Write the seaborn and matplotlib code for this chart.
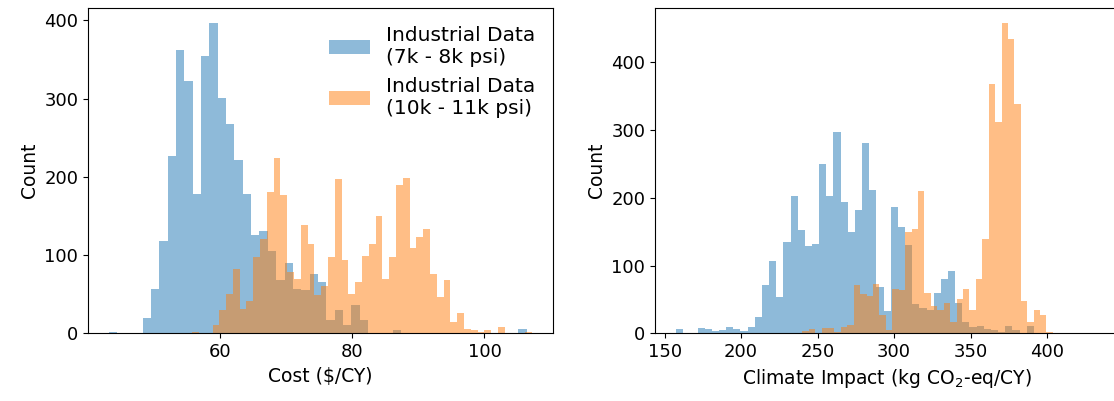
import numpy as np
import pandas as pd
import matplotlib
matplotlib.use("Agg")
import matplotlib.pyplot as plt
import seaborn as sns

# ---------------- data (bin counts) ----------------
# Cost panel, 7k-8k psi: 50 bins starting at 43.30, width 1.2617
cost_lo_start = 43.30
cost_lo_width = 1.2617
cost_lo_counts = [2, 0, 0, 1, 20, 57, 118, 227, 362, 322,
                  178, 355, 396, 301, 268, 222, 178, 126, 131, 105,
                  68, 90, 57, 55, 76, 65, 17, 30, 11, 36,
                  17, 0, 1, 1, 4, 0, 0, 0, 0, 0,
                  0, 0, 0, 0, 0, 0, 0, 0, 0, 5]

# Cost panel, 10k-11k psi: 50 bins starting at 55.84, width 1.0265
cost_hi_start = 55.84
cost_hi_width = 1.0265
cost_hi_counts = [2, 0, 0, 10, 30, 50, 82, 31, 41, 97,
                  120, 181, 224, 177, 78, 69, 139, 114, 49, 60,
                  97, 197, 94, 50, 65, 99, 114, 150, 69, 97,
                  190, 199, 109, 123, 133, 76, 47, 68, 15, 26,
                  5, 4, 2, 4, 0, 8, 1, 1, 1, 2]

# Climate panel, 7k-8k psi: 50 bins starting at 157.5, width 4.676
gwp_lo_start = 157.5
gwp_lo_width = 4.676
gwp_lo_counts = [6, 1, 0, 8, 6, 3, 5, 9, 6, 4,
                 9, 24, 71, 107, 54, 135, 203, 152, 129, 131,
                 250, 203, 297, 194, 149, 182, 281, 211, 68, 33,
                 186, 157, 130, 43, 38, 35, 60, 80, 92, 45,
                 17, 9, 11, 7, 5, 2, 11, 5, 1, 11]

# Climate panel, 10k-11k psi: 50 bins starting at 223.18, width 4.2
gwp_hi_start = 223.18
gwp_hi_width = 4.2
gwp_hi_counts = [1, 0, 0, 0, 4, 7, 1, 8, 8, 2,
                 9, 12, 71, 58, 55, 73, 27, 5, 65, 64,
                 149, 154, 210, 60, 40, 35, 45, 17, 50, 65,
                 34, 80, 139, 368, 312, 457, 434, 338, 47, 16,
                 34, 27, 2, 0, 0, 0, 0, 0, 1, 1]

label_lo = "Industrial Data\n(7k - 8k psi)"
label_hi = "Industrial Data\n(10k - 11k psi)"
xlabel_cost = "Cost ($/CY)"
xlabel_gwp = "Climate Impact (kg CO$_2$-eq/CY)"
ylabel = "Count"

BLUE = "#1f77b4"
ORANGE = "#ff7f0e"

plt.rcParams["font.family"] = ["DejaVu Sans"]
plt.rcParams["font.size"] = 13.5


def draw_hist(ax, start, width, counts, color, label):
    counts = np.asarray(counts, dtype=float)
    edges = start + width * np.arange(len(counts) + 1)
    centers = 0.5 * (edges[:-1] + edges[1:])
    df = pd.DataFrame({"x": centers, "w": counts})
    sns.histplot(data=df, x="x", weights="w", bins=[float(e) for e in edges],
                 ax=ax, color=color, alpha=0.5, label=label,
                 edgecolor="none", linewidth=0)


fig = plt.figure(figsize=(11.14, 4.01), dpi=100)
ax1 = fig.add_axes([88 / 1114, 1 - 333.3 / 401, 465 / 1114, 325.3 / 401])
ax2 = fig.add_axes([655 / 1114, 1 - 333.3 / 401, 464 / 1114, 325.3 / 401])

draw_hist(ax1, cost_lo_start, cost_lo_width, cost_lo_counts, BLUE, label_lo)
draw_hist(ax1, cost_hi_start, cost_hi_width, cost_hi_counts, ORANGE, label_hi)
draw_hist(ax2, gwp_lo_start, gwp_lo_width, gwp_lo_counts, BLUE, label_lo)
draw_hist(ax2, gwp_hi_start, gwp_hi_width, gwp_hi_counts, ORANGE, label_hi)

for ax in (ax1, ax2):
    ax.set_ylabel(ylabel, fontsize=13.5)
    ax.tick_params(labelsize=13)
ax1.set_xlabel(xlabel_cost, fontsize=13.5)
ax2.set_xlabel(xlabel_gwp, fontsize=13.5)
ax1.set_xticks([60, 80, 100])
ax2.set_xticks([150, 200, 250, 300, 350, 400])
ax1.set_yticks([0, 100, 200, 300, 400])
ax2.set_yticks([0, 100, 200, 300, 400])

ax1.legend(loc="upper right", frameon=False, fontsize=14.5)

fig.savefig("out.png", dpi=100)
